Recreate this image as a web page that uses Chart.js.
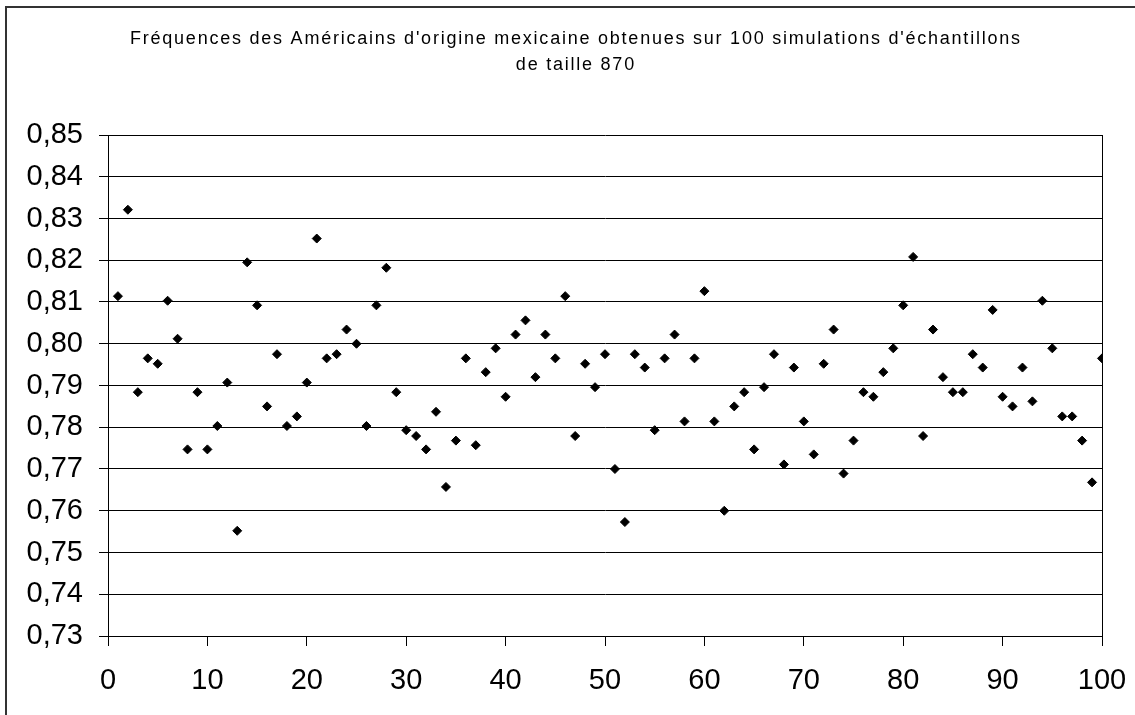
<!DOCTYPE html>
<html>
<head>
<meta charset="utf-8">
<script src="https://cdn.jsdelivr.net/npm/chart.js@4.4.1/dist/chart.umd.min.js"></script>
<style>
  html, body { margin: 0; padding: 0; background: #fff; }
  #wrap { position: relative; width: 1135px; height: 715px; }
  #wrap canvas { position: absolute; left: 0; top: 0; }
  #frame { position: absolute; left: 5px; top: 6px; right: 0; bottom: 0;
           border-left: 2px solid #333; border-top: 2px solid #333; pointer-events: none; }
</style>
</head>
<body>
<div id="wrap">
  <canvas id="myChart" width="1135" height="715"></canvas>
  <div id="frame"></div>
</div>
<script>
// titre sur deux lignes
const titre = [
  "Fréquences des Américains d'origine mexicaine obtenues sur 100 simulations d'échantillons",
  'de taille 870'
];

const frequences = [
  0.8114, 0.8321, 0.7884, 0.7965, 0.7952, 0.8103, 0.8012, 0.7747, 0.7884, 0.7747,
  0.7803, 0.7907, 0.7552, 0.8195, 0.8092, 0.7850, 0.7975, 0.7803, 0.7826, 0.7907,
  0.8252, 0.7965, 0.7975, 0.8034, 0.8000, 0.7803, 0.8092, 0.8182, 0.7884, 0.7793,
  0.7779, 0.7747, 0.7837, 0.7657, 0.7768, 0.7965, 0.7757, 0.7932, 0.7989, 0.7873,
  0.8022, 0.8056, 0.7920, 0.8022, 0.7965, 0.8114, 0.7779, 0.7952, 0.7896, 0.7975,
  0.7700, 0.7573, 0.7975, 0.7943, 0.7793, 0.7965, 0.8022, 0.7814, 0.7965, 0.8126,
  0.7814, 0.7600, 0.7850, 0.7884, 0.7747, 0.7896, 0.7975, 0.7711, 0.7943, 0.7814,
  0.7735, 0.7952, 0.8034, 0.7689, 0.7768, 0.7884, 0.7873, 0.7932, 0.7989, 0.8092,
  0.8208, 0.7779, 0.8034, 0.7920, 0.7884, 0.7884, 0.7975, 0.7943, 0.8081, 0.7873,
  0.7850, 0.7943, 0.7862, 0.8103, 0.7989, 0.7826, 0.7826, 0.7768, 0.7668, 0.7965
];

// axes
const xMin = 0, xMax = 100, xPas = 10;
const yMin = 0.73, yMax = 0.85, yPas = 0.01;

const points = frequences.map((f, i) => ({ x: i + 1, y: f }));

// le titre est dessiné à la main pour retrouver l'espacement des lettres
const titrePlugin = {
  id: 'titre',
  afterDraw(chart) {
    const ctx = chart.ctx;
    ctx.save();
    ctx.font = '18px "Liberation Sans", Arial, sans-serif';
    ctx.fillStyle = '#000';
    ctx.textAlign = 'left';
    ctx.textBaseline = 'alphabetic';
    const largeur = ctx.measureText(titre[0]).width;
    const sp = (890 - largeur) / (titre[0].length - 1);
    titre.forEach((ligne, i) => {
      ctx.letterSpacing = '0px';
      const lw = ctx.measureText(ligne).width + sp * (ligne.length - 1);
      ctx.letterSpacing = sp + 'px';
      ctx.fillText(ligne, 575 - lw / 2, 44 + i * 26);
    });
    ctx.restore();
  }
};

const police = { family: '"Liberation Sans", Arial, sans-serif', size: 29 };

new Chart(document.getElementById('myChart'), {
  type: 'scatter',
  data: {
    datasets: [{
      data: points,
      pointStyle: 'rectRot',
      pointRadius: 4.5,
      pointBorderWidth: 1,
      backgroundColor: '#000',
      borderColor: '#000'
    }]
  },
  options: {
    responsive: false,
    animation: false,
    layout: { padding: { left: 0, right: 33, top: 135, bottom: 0 } },
    plugins: { legend: { display: false }, tooltip: { enabled: false }, title: { display: false } },
    scales: {
      x: {
        type: 'linear',
        min: xMin, max: xMax,
        afterFit: (axis) => { axis.height = 79; axis.paddingLeft = 0; axis.paddingRight = 0; },
        ticks: { stepSize: xPas, color: '#000', font: police, padding: 18, maxRotation: 0 },
        grid: {
          color: (c) => c.tick && c.tick.value === xMax ? '#000' : 'rgba(0,0,0,0)',
          tickColor: '#000',
          tickLength: 10,
          lineWidth: 1
        },
        border: { display: true, color: '#000', width: 1 }
      },
      y: {
        min: yMin, max: yMax,
        afterFit: (axis) => { axis.width = 108; axis.paddingTop = 0; axis.paddingBottom = 0; },
        ticks: {
          stepSize: yPas, color: '#000', font: police, padding: 16,
          callback: (v) => v.toFixed(2).replace('.', ',')
        },
        grid: { color: '#000', tickColor: '#000', tickLength: 9, lineWidth: 1 },
        border: { display: true, color: '#000', width: 1 }
      }
    }
  },
  plugins: [titrePlugin]
});
</script>
</body>
</html>
